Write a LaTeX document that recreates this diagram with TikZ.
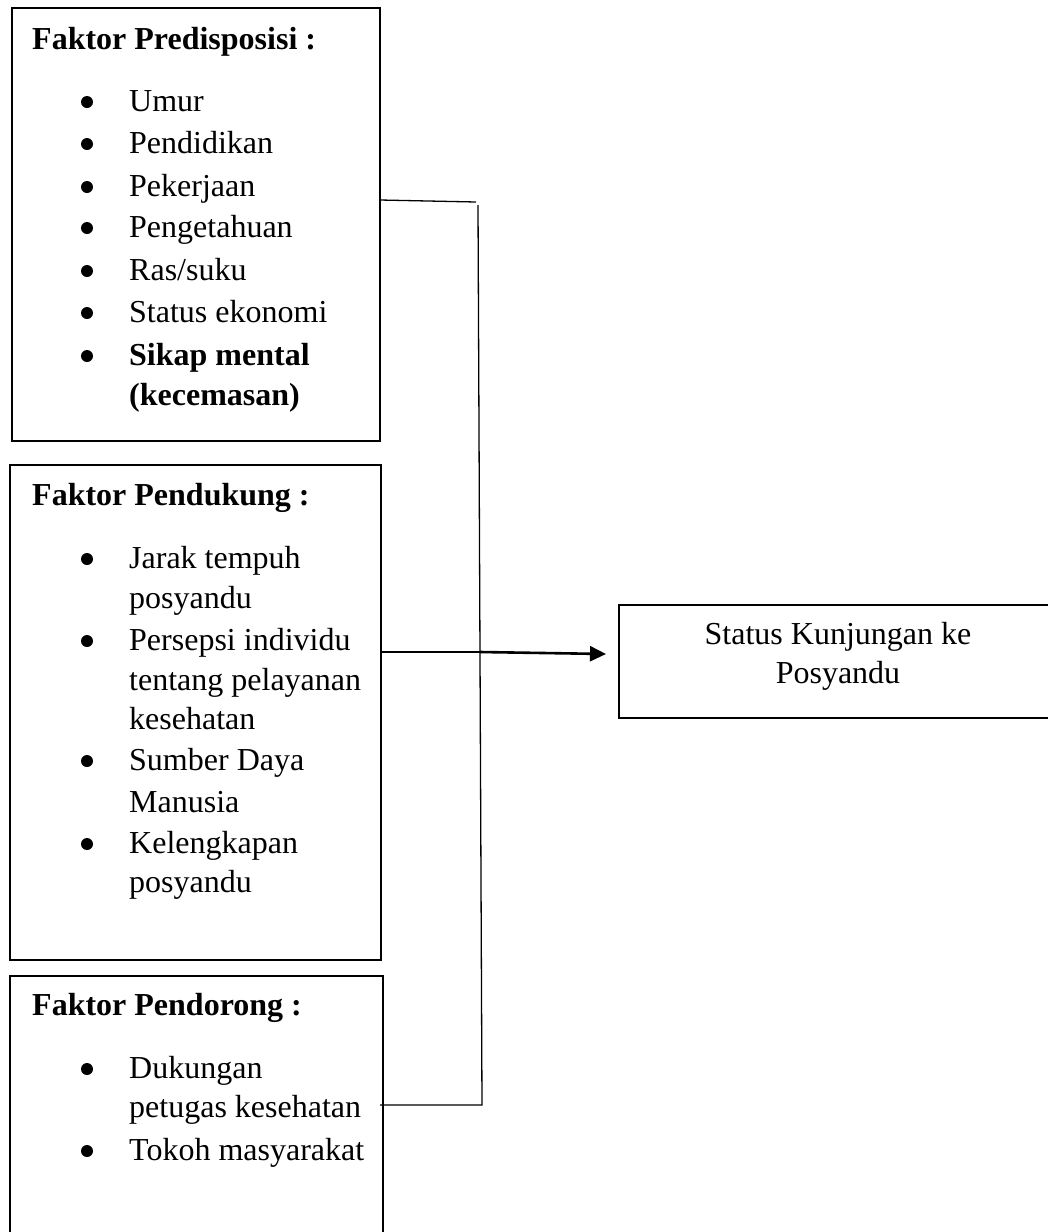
\documentclass[tikz,border=0pt]{standalone}
\usepackage{fontspec}
\setmainfont{Liberation Serif}
\usetikzlibrary{arrows.meta}
\tikzset{
  frame/.style={draw, line width=2.5pt, inner sep=0pt, outer sep=0pt, anchor=north west},
  txt/.style={anchor=base west, inner sep=0pt, font=\fontsize{32}{40}\selectfont},
  ttl/.style={txt, font=\fontsize{32}{40}\selectfont\bfseries},
  bul/.style={circle, fill=black, inner sep=0pt, minimum size=12pt},
  conn/.style={line width=1.3pt},
  arr/.style={line width=2.6pt, -{Triangle[length=16pt,width=15pt]}}
}
\newcommand{\bulat}[2]{\node[bul] (#1) at (87,#2-9) {};}
\begin{document}
\begin{tikzpicture}[x=1pt,y=-1pt]
\useasboundingbox (0,0) rectangle (1048,1232);
% boxes
\node[frame, minimum width=368pt, minimum height=433pt] (box1) at (12,8) {};
\node[frame, minimum width=371pt, minimum height=495pt] (box2) at (10,465) {};
\node[frame, minimum width=373pt, minimum height=290pt] (box3) at (10,976) {};
\node[frame, minimum width=450pt, minimum height=113pt] (target) at (619,605) {};
% box 1 text
\node[ttl] (t1) at (32,49) {Faktor Predisposisi :};
\foreach \y/\t [count=\i] in {111/Umur,153/Pendidikan,196/Pekerjaan,237/Pengetahuan,280/Ras\slash suku,322/Status ekonomi}{
  \node[bul] (a\i b) at (87,\y-9) {};
  \node[txt] (a\i) at (129,\y) {\t};
}
\bulat{a7b}{365}
\node[txt, font=\fontsize{32}{40}\selectfont\bfseries] (a7) at (129,365) {Sikap mental};
\node[txt, font=\fontsize{32}{40}\selectfont\bfseries] (a8) at (129,405) {(kecemasan)};
% box 2 text
\node[ttl] (t2) at (32,505) {Faktor Pendukung :};
\bulat{b1b}{568}
\node[txt] (b1) at (129,568) {Jarak tempuh};
\node[txt] (b2) at (129,608) {posyandu};
\bulat{b3b}{650}
\node[txt] (b3) at (129,650) {Persepsi individu};
\node[txt] (b4) at (129,690) {tentang pelayanan};
\node[txt] (b5) at (129,729) {kesehatan};
\bulat{b6b}{770}
\node[txt] (b6) at (129,770) {Sumber Daya};
\node[txt] (b7) at (129,812) {Manusia};
\bulat{b8b}{853}
\node[txt] (b8) at (129,853) {Kelengkapan};
\node[txt] (b9) at (129,892) {posyandu};
% box 3 text
\node[ttl] (t3) at (32,1015) {Faktor Pendorong :};
\bulat{c1b}{1078}
\node[txt] (c1) at (129,1078) {Dukungan};
\node[txt] (c2) at (129,1117) {petugas kesehatan};
\bulat{c3b}{1160}
\node[txt] (c3) at (129,1160) {Tokoh masyarakat};
% target text
\node[anchor=base, inner sep=0pt, font=\fontsize{32}{40}\selectfont] (s1) at (838,644) {Status Kunjungan ke};
\node[anchor=base, inner sep=0pt, font=\fontsize{32}{40}\selectfont] (s2) at (838,683) {Posyandu};
% connectors
\coordinate (p1) at (box1.east |- 0,200);
\coordinate (j1) at (476,202);
\coordinate (v1) at (478,205);
\coordinate (p2) at (box2.east |- 0,652);
\coordinate (j2) at (480,652);
\coordinate (p3) at (380,1105);
\coordinate (j3) at (482,1105);
\coordinate (tw) at (606,654);
\draw[conn] (p1) -- (j1);
\draw[conn] (v1) -- (j3) -- (p3);
\draw[conn] (p2) -- (j2);
\draw[arr] (j2) -- (tw);
\end{tikzpicture}
\end{document}
